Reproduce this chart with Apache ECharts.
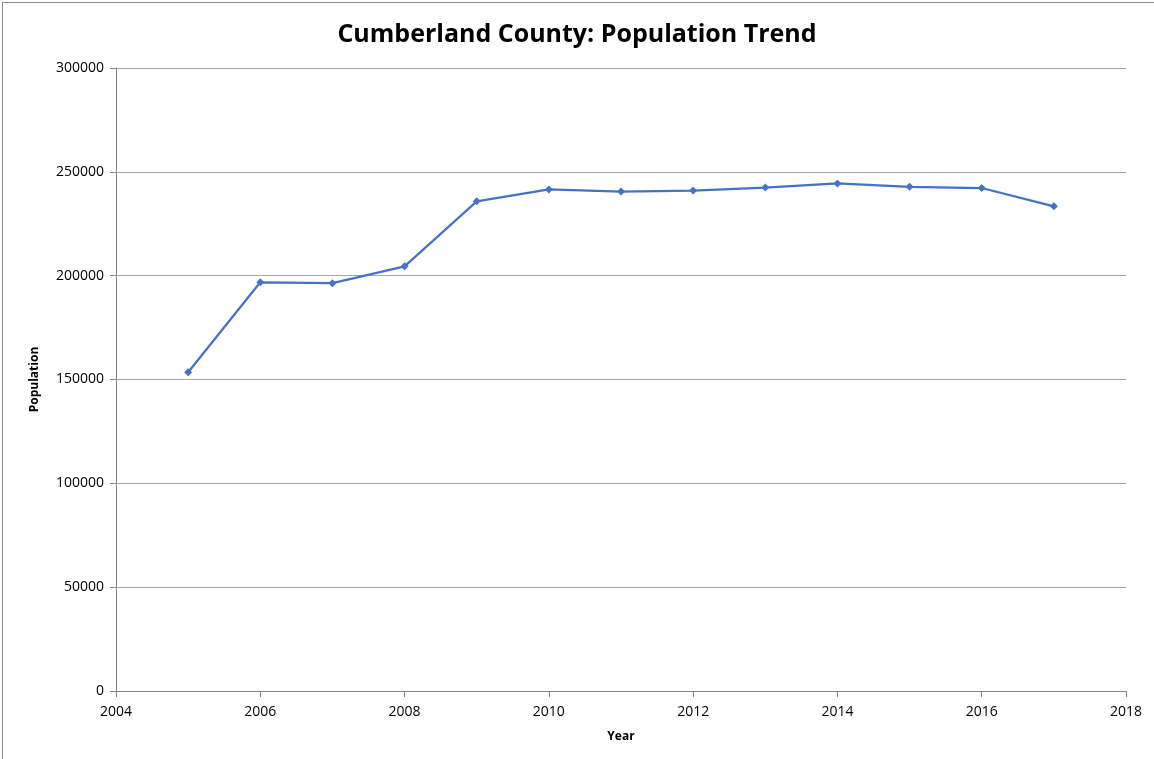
<!DOCTYPE html>
<html>
<head>
<meta charset="utf-8">
<script src="https://cdn.jsdelivr.net/npm/echarts@6/dist/echarts.min.js"></script>
<style>html,body{margin:0;padding:0;background:#fff;}#c{width:1154px;height:759px;}</style>
</head>
<body>
<div id="c"></div>
<script>
const years = [2005, 2006, 2007, 2008, 2009, 2010, 2011, 2012, 2013, 2014, 2015, 2016, 2017];
const population = [153500, 196800, 196400, 204500, 235800, 241500, 240500, 241000, 242400, 244400, 242800, 242200, 233400];
const titleText = 'Cumberland County: Population Trend';
const xName = 'Year';
const yName = 'Population';

const chart = echarts.init(document.getElementById('c'), null, {renderer: 'canvas'});
chart.setOption({
  animation: false,
  backgroundColor: '#fff',
  title: {
    text: titleText, left: 'center', top: 17,
    textStyle: {fontFamily: 'Open Sans', fontWeight: 'bold', fontSize: 25, color: '#000'}
  },
  graphic: [{type: 'polyline', shape: {points: [[2.5, 759], [2.5, 2.5], [1154, 2.5]]}, style: {stroke: '#8c8c8c', lineWidth: 1, fill: null}}],
  grid: {left: 116, right: 28, top: 68, bottom: 68},
  xAxis: {
    type: 'value', min: 2004, max: 2018, interval: 2,
    name: xName, nameLocation: 'middle', nameGap: 40,
    nameTextStyle: {fontFamily: 'Open Sans', fontWeight: 'bold', fontSize: 12, color: '#000'},
    axisLine: {show: true, lineStyle: {color: '#868686', width: 1}},
    axisTick: {show: true, inside: false, length: 6, lineStyle: {color: '#868686'}},
    axisLabel: {fontFamily: 'Open Sans', fontSize: 14, color: '#000', margin: 14, formatter: v => String(v)},
    splitLine: {show: false}
  },
  yAxis: {
    type: 'value', min: 0, max: 300000, interval: 50000,
    name: yName, nameLocation: 'middle', nameGap: 75, nameRotate: 90,
    nameTextStyle: {fontFamily: 'Open Sans', fontWeight: 'bold', fontSize: 12, color: '#000'},
    axisLine: {show: true, lineStyle: {color: '#868686', width: 1}},
    axisTick: {show: true, inside: false, length: 6, lineStyle: {color: '#868686'}},
    axisLabel: {fontFamily: 'Open Sans', fontSize: 14, color: '#000', margin: 12, formatter: v => String(v)},
    splitLine: {show: true, lineStyle: {color: '#a6a6a6', width: 1}}
  },
  series: [{
    type: 'line',
    data: years.map((y, i) => [y, population[i]]),
    symbol: 'diamond', symbolSize: 8,
    lineStyle: {color: '#4472C4', width: 2.25},
    itemStyle: {color: '#4472C4'}
  }]
});
</script>
</body>
</html>
